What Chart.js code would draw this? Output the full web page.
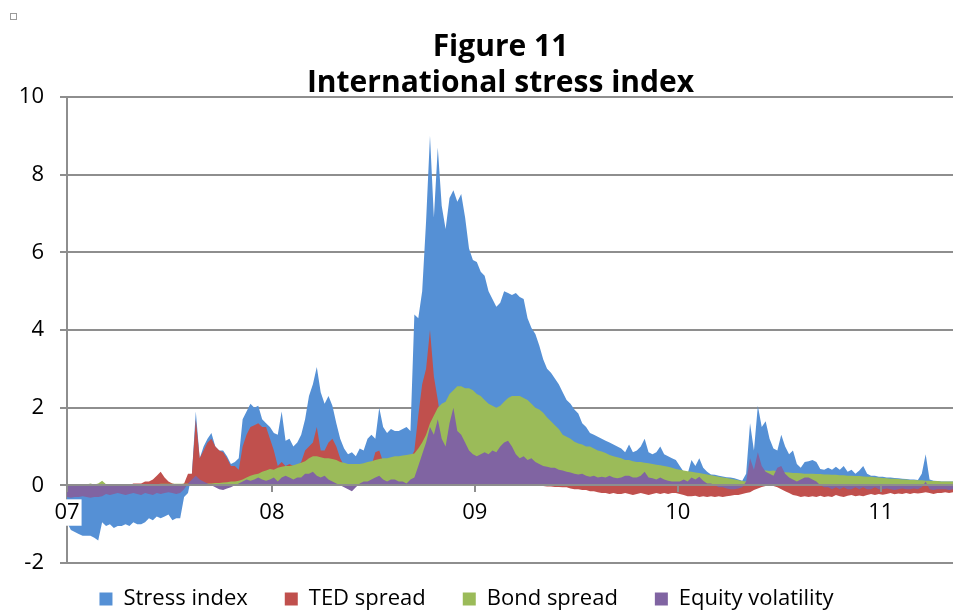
<!DOCTYPE html>
<html>
<head>
<meta charset="utf-8">
<title>International stress index</title>
<script src="https://cdn.jsdelivr.net/npm/chart.js@4/dist/chart.umd.min.js"></script>
<style>
  body { margin: 0; background: #fff; }
  #wrap { position: relative; width: 953px; height: 611px; }
  #mark { position: absolute; left: 10px; top: 13px; width: 5px; height: 5px; border: 1px solid #9a9a9a; }
</style>
</head>
<body>
<div id="wrap">
  <canvas id="myChart" width="953" height="611"></canvas>
  <div id="mark"></div>
</div>
<script>
// weekly observations, Jan 2007 - May 2011
const stressIndex = [
  -0.95, -1.15, -1.2, -1.25, -1.3, -1.3, -1.3, -1.35, -1.42, -0.95,
  -1.05, -1.0, -1.1, -1.05, -1.05, -1.0, -1.05, -0.95, -1.0, -1.0,
  -0.95, -0.85, -0.9, -0.8, -0.85, -0.8, -0.75, -0.9, -0.85, -0.85,
  -0.3, -0.2, 0.3, 1.9, 0.7, 1.0, 1.2, 1.35, 1.0, 0.9,
  0.9, 0.75, 0.55, 0.6, 0.7, 1.7, 1.9, 2.1, 2.0, 2.05,
  1.7, 1.6, 1.5, 1.35, 1.3, 1.9, 1.15, 1.2, 1.0, 1.1,
  1.3, 1.7, 2.3, 2.6, 3.05, 2.4, 2.1, 2.3, 2.05, 1.6,
  1.2, 0.95, 0.8, 0.85, 0.75, 0.95, 0.9, 1.2, 1.3, 1.2,
  2.0, 1.5, 1.35, 1.45, 1.4, 1.4, 1.45, 1.5, 1.4, 4.4,
  4.3, 5.0, 6.8, 9.0, 6.9, 8.7, 7.2, 6.6, 7.4, 7.6,
  7.3, 7.5, 6.9, 6.1, 5.8, 5.75, 5.5, 5.4, 5.0, 4.8,
  4.6, 4.7, 5.0, 4.95, 4.9, 4.95, 4.85, 4.8, 4.3, 4.05,
  3.9, 3.6, 3.25, 3.0, 2.9, 2.75, 2.6, 2.4, 2.2, 2.1,
  1.95, 1.85, 1.6, 1.5, 1.35, 1.3, 1.25, 1.2, 1.15, 1.1,
  1.05, 1.0, 0.95, 0.85, 1.05, 0.85, 0.9, 1.0, 1.2, 0.85,
  0.8, 0.85, 1.0, 0.8, 0.75, 0.7, 0.65, 0.5, 0.35, 0.3,
  0.65, 0.5, 0.7, 0.45, 0.35, 0.28, 0.27, 0.25, 0.23, 0.21,
  0.2, 0.18, 0.15, 0.12, 0.3, 1.6, 0.9, 2.05, 1.5, 1.65,
  1.2, 0.95, 0.9, 1.3, 1.0, 0.8, 0.9, 0.55, 0.45, 0.6,
  0.62, 0.65, 0.6, 0.42, 0.4, 0.45, 0.4, 0.48, 0.4, 0.5,
  0.35, 0.4, 0.3, 0.38, 0.5, 0.3, 0.25, 0.25, 0.22, 0.22,
  0.2, 0.2, 0.19, 0.18, 0.17, 0.16, 0.15, 0.15, 0.14, 0.3,
  0.8, 0.15, 0.12, 0.11, 0.1, 0.1, 0.1, 0.1
];

const tedSpread = [
  0, 0, 0, 0, 0, 0, 0, 0, 0, 0,
  0, 0, 0, 0, 0, 0, 0, 0.05, 0.05, 0.05,
  0.1, 0.1, 0.15, 0.25, 0.35, 0.2, 0.1, 0.05, 0.02, 0.02,
  0.05, 0.3, 0.3, 1.7, 0.7, 0.9, 1.1, 1.2, 1.0, 0.9,
  0.85, 0.7, 0.5, 0.5, 0.4, 1.0, 1.3, 1.5, 1.55, 1.6,
  1.5, 1.5, 1.2, 0.9, 0.5, 0.6, 0.5, 0.55, 0.5, 0.5,
  0.6, 0.9, 1.0, 1.1, 1.5, 0.9, 0.9, 1.1, 1.2, 1.0,
  0.7, 0.5, 0.4, 0.4, 0.4, 0.4, 0.35, 0.4, 0.5, 0.85,
  0.9, 0.6, 0.5, 0.5, 0.55, 0.55, 0.55, 0.6, 0.7, 0.9,
  1.8, 2.6, 3.0, 4.0, 2.8, 2.2, 1.5, 1.0, 0.8, 0.6,
  0.5, 0.4, 0.35, 0.3, 0.25, 0.2, 0.15, 0.15, 0.1, 0.1,
  0.1, 0.05, 0.05, 0.05, 0, 0, 0, 0, 0, 0,
  0, -0.02, -0.02, -0.03, -0.03, -0.04, -0.04, -0.05, -0.05, -0.08,
  -0.1, -0.1, -0.12, -0.12, -0.15, -0.15, -0.18, -0.2, -0.2, -0.22,
  -0.2, -0.22, -0.22, -0.2, -0.22, -0.25, -0.22, -0.2, -0.22, -0.25,
  -0.22, -0.2, -0.22, -0.2, -0.22, -0.2, -0.2, -0.22, -0.25, -0.28,
  -0.28, -0.27, -0.3, -0.28, -0.3, -0.28, -0.3, -0.28, -0.3, -0.28,
  -0.27, -0.25, -0.25, -0.22, -0.2, -0.18, -0.12, -0.08, -0.04, -0.02,
  -0.01, -0.02, -0.05, -0.1, -0.15, -0.2, -0.25, -0.27, -0.3, -0.28,
  -0.3, -0.28, -0.3, -0.27, -0.3, -0.28, -0.3, -0.25, -0.28, -0.3,
  -0.27, -0.25, -0.28, -0.26, -0.28, -0.25, -0.22, -0.25, -0.22, -0.24,
  -0.22, -0.2, -0.23, -0.21, -0.22, -0.2, -0.22, -0.2, -0.21, -0.2,
  -0.18, -0.2, -0.22, -0.2, -0.2, -0.18, -0.2, -0.18
];

const bondSpread = [
  0, 0, 0, 0, 0, 0.02, 0.05, 0.02, 0.05, 0.12,
  0.03, 0.02, 0.02, 0.02, 0.03, 0.02, 0.02, 0.02, 0.02, 0.03,
  0.03, 0.03, 0.03, 0.03, 0.04, 0.04, 0.04, 0.04, 0.04, 0.04,
  0.04, 0.05, 0.05, 0.05, 0.05, 0.05, 0.05, 0.05, 0.06, 0.06,
  0.07, 0.08, 0.1, 0.1, 0.12, 0.15, 0.2, 0.25, 0.28, 0.3,
  0.35, 0.38, 0.42, 0.4, 0.45, 0.48, 0.5, 0.5, 0.52, 0.55,
  0.58, 0.62, 0.7, 0.75, 0.75, 0.72, 0.7, 0.7, 0.68, 0.65,
  0.6, 0.58, 0.55, 0.55, 0.55, 0.55, 0.57, 0.6, 0.62, 0.65,
  0.68, 0.7, 0.7, 0.72, 0.75, 0.75, 0.77, 0.78, 0.8, 0.82,
  0.95, 1.1, 1.3, 1.6, 1.8, 2.0, 2.1, 2.15, 2.35, 2.45,
  2.55, 2.55, 2.5, 2.5, 2.45, 2.35, 2.3, 2.2, 2.1, 2.05,
  2.0, 2.05, 2.15, 2.25, 2.3, 2.3, 2.3, 2.25, 2.2, 2.1,
  2.0, 1.95, 1.87, 1.75, 1.65, 1.55, 1.45, 1.3, 1.25, 1.2,
  1.12, 1.08, 1.05, 1.0, 1.0, 0.95, 0.9, 0.87, 0.83, 0.78,
  0.75, 0.72, 0.7, 0.65, 0.65, 0.62, 0.6, 0.6, 0.58, 0.57,
  0.55, 0.53, 0.52, 0.5, 0.48, 0.45, 0.42, 0.4, 0.38, 0.36,
  0.35, 0.33, 0.32, 0.3, 0.28, 0.26, 0.24, 0.22, 0.2, 0.19,
  0.17, 0.15, 0.13, 0.11, 0.1, 0.2, 0.3, 0.38, 0.4, 0.38,
  0.37, 0.38, 0.36, 0.35, 0.34, 0.33, 0.32, 0.32, 0.31, 0.3,
  0.3, 0.3, 0.29, 0.29, 0.28, 0.28, 0.27, 0.27, 0.26, 0.26,
  0.25, 0.25, 0.24, 0.24, 0.23, 0.22, 0.22, 0.21, 0.2, 0.19,
  0.18, 0.17, 0.17, 0.16, 0.15, 0.15, 0.14, 0.14, 0.13, 0.13,
  0.12, 0.12, 0.11, 0.11, 0.1, 0.1, 0.1, 0.1
];

const equityVolatility = [
  -0.3, -0.32, -0.3, -0.3, -0.28, -0.3, -0.32, -0.3, -0.3, -0.28,
  -0.22, -0.25, -0.22, -0.2, -0.22, -0.25, -0.22, -0.2, -0.22, -0.25,
  -0.2, -0.22, -0.25, -0.2, -0.22, -0.2, -0.18, -0.2, -0.22, -0.2,
  -0.1, 0.05, 0.15, 0.25, 0.15, 0.1, 0.05, 0, -0.05, -0.1,
  -0.12, -0.08, -0.05, 0, 0.05, 0.1, 0.15, 0.12, 0.15, 0.2,
  0.15, 0.12, 0.15, 0.2, 0.1, 0.2, 0.25, 0.2, 0.15, 0.2,
  0.2, 0.3, 0.3, 0.35, 0.25, 0.2, 0.25, 0.15, 0.1, 0.05,
  0, -0.05, -0.1, -0.15, -0.05, 0.05, 0.1, 0.1, 0.15, 0.2,
  0.25, 0.15, 0.1, 0.15, 0.15, 0.1, 0.1, 0.05, 0.15, 0.2,
  0.5, 0.8, 1.1, 1.5, 1.3, 1.7, 1.2, 1.0, 1.6, 2.0,
  1.4, 1.3, 1.1, 0.9, 0.8, 0.75, 0.8, 0.85, 0.8, 0.9,
  0.85, 1.0, 1.1, 1.15, 1.0, 0.8, 0.7, 0.75, 0.65, 0.7,
  0.6, 0.55, 0.5, 0.48, 0.45, 0.45, 0.4, 0.38, 0.35, 0.33,
  0.3, 0.28, 0.3, 0.25, 0.22, 0.25, 0.2, 0.22, 0.2, 0.25,
  0.2, 0.18, 0.2, 0.25, 0.25, 0.2, 0.2, 0.25, 0.35, 0.2,
  0.18, 0.15, 0.2, 0.15, 0.12, 0.1, 0.1, 0.1, 0.15, 0.1,
  0.2, 0.15, 0.22, 0.12, 0.05, 0.05, 0, -0.05, -0.05, -0.08,
  -0.1, -0.1, -0.08, -0.05, 0.1, 0.7, 0.4, 0.85, 0.5, 0.35,
  0.3, 0.25, 0.45, 0.5, 0.3, 0.2, 0.15, 0.1, 0.15, 0.2,
  0.2, 0.15, 0.1, 0, -0.05, -0.05, -0.1, -0.05, -0.1, -0.05,
  -0.1, -0.1, -0.05, -0.1, -0.05, -0.1, -0.1, -0.05, -0.1, -0.1,
  -0.08, -0.1, -0.12, -0.1, -0.08, -0.1, -0.1, -0.08, -0.1, -0.05,
  0.1, -0.1, -0.12, -0.1, -0.1, -0.1, -0.12, -0.1
];

const weeks = stressIndex.map((_, i) => i);
const yearTicks = [0, 52.5, 104.5, 156.5, 208.5];
const yearLabels = ['07', '08', '09', '10', '11'];
const yTicks = [-2, 0, 2, 4, 6, 8, 10];

const gridGrey = '#8e8e8e';
const labelFont = { family: 'Open Sans', size: 22 };

Chart.defaults.font.family = 'Open Sans';
Chart.defaults.color = '#000';

function area(label, values, color, order) {
  return {
    label: label,
    data: values,
    backgroundColor: color,
    borderColor: color,
    borderWidth: 0,
    pointRadius: 0,
    fill: 'origin',
    tension: 0,
    order: order
  };
}

// squeeze legend height and nudge title / legend sideways like the original
const layoutTweaks = {
  id: 'layoutTweaks',
  beforeLayout(chart) {
    const lg = chart.legend;
    if (lg && !lg._squeezed) {
      const fit = lg.fit;
      lg.fit = function () { fit.call(this); this.height = 48; };
      lg._squeezed = true;
    }
  },
  afterLayout(chart) {
    const lg = chart.legend;
    lg.top = 551; lg.bottom = 611;
    lg.left -= 10; lg.right -= 10;
    const t = chart.titleBlock;
    t.left += 24; t.right += 24;
  }
};

new Chart(document.getElementById('myChart'), {
  type: 'line',
  data: {
    labels: weeks,
    datasets: [
      area('Stress index', stressIndex, '#5590d5', 4),
      area('TED spread', tedSpread, '#c0504d', 3),
      area('Bond spread', bondSpread, '#9bbb59', 2),
      area('Equity volatility', equityVolatility, '#8064a2', 1)
    ]
  },
  options: {
    responsive: false,
    animation: false,
    devicePixelRatio: 1,
    layout: { padding: 0 },
    plugins: {
      title: {
        display: true,
        text: ['Figure 11', 'International stress index'],
        color: '#000',
        font: { family: 'Open Sans', size: 30, weight: 'bold', lineHeight: 1.2 },
        padding: { top: 29, bottom: -4 }
      },
      legend: {
        position: 'bottom',
        labels: {
          font: labelFont,
          color: '#000',
          boxWidth: 13,
          boxHeight: 13,
          padding: 37,
          sort: (a, b) => a.datasetIndex - b.datasetIndex
        }
      },
      tooltip: { enabled: false }
    },
    scales: {
      x: {
        type: 'linear',
        position: { y: 0 },
        min: 0,
        max: weeks.length - 1,
        afterBuildTicks: s => { s.ticks = yearTicks.map(v => ({ value: v })); },
        ticks: {
          callback: (v, i) => yearLabels[i],
          font: labelFont,
          color: '#000',
          padding: 8,
          maxRotation: 0,
          autoSkip: false,
          z: 1,
          showLabelBackdrop: true,
          backdropColor: '#fff',
          backdropPadding: { top: 0, bottom: 0, left: 2, right: 2 }
        },
        grid: { drawOnChartArea: false, tickLength: 6, color: gridGrey, lineWidth: 2, z: 1 },
        border: { color: gridGrey, width: 2, z: 1 }
      },
      y: {
        min: -2,
        max: 10,
        afterBuildTicks: s => { s.ticks = yTicks.map(v => ({ value: v })); },
        afterFit: s => { s.width = 67; },
        ticks: { font: labelFont, color: '#000', padding: 16 },
        grid: { color: gridGrey, lineWidth: 2, tickLength: 7 },
        border: { color: gridGrey, width: 2 }
      }
    }
  },
  plugins: [layoutTweaks]
});
</script>
</body>
</html>
